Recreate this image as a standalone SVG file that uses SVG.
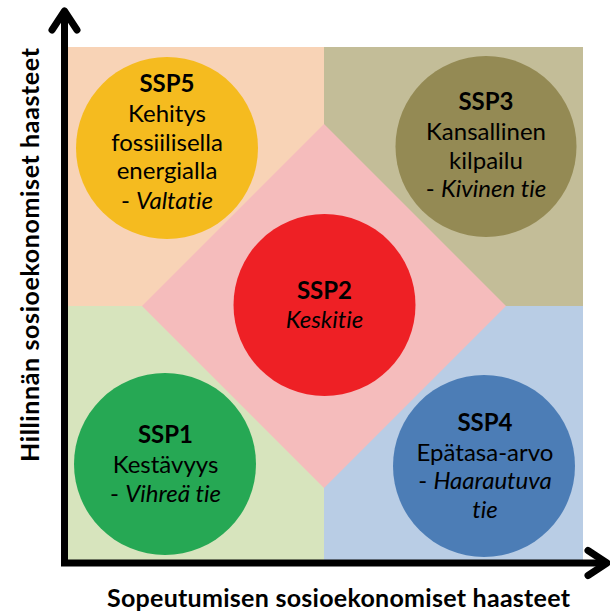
<svg xmlns="http://www.w3.org/2000/svg" width="610" height="613" viewBox="0 0 610 613">
  <style>
    .t { font-family: Lato, "Liberation Sans", sans-serif; font-size: 24px; fill: #000; text-anchor: middle; font-variant-ligatures: none; }
    .b { font-weight: bold; }
    .i { font-style: italic; }
    .ax { fill: none; stroke: #000; stroke-width: 7; }
    .axl { font-family: Lato, "Liberation Sans", sans-serif; font-size: 25px; font-weight: bold; fill: #000; text-anchor: middle; font-variant-ligatures: none; }
  </style>
  <defs>
    <marker id="arr" markerUnits="userSpaceOnUse" viewBox="-30 -20 40 40" markerWidth="40" markerHeight="40" refX="0" refY="0" orient="auto-start-reverse" overflow="visible">
      <path d="M -19 -12.5 L 0 0 L -19 12.5" fill="none" stroke="#000" stroke-width="7" stroke-linecap="round" stroke-linejoin="round"/>
    </marker>
  </defs>
  <rect width="610" height="613" fill="#fff"/>
  <!-- quadrants -->
  <rect x="64" y="47" width="260" height="259" fill="#F8D3B6"/>
  <rect x="324" y="47" width="259" height="259" fill="#C3BD98"/>
  <rect x="64" y="306" width="260" height="257" fill="#D7E4BD"/>
  <rect x="324" y="306" width="259" height="257" fill="#B9CDE5"/>
  <polygon points="324,124 506,306 324,488 142,306" fill="#F5BCBC"/>

  <g id="connectors">
    <path class="ax" d="M 64.5 11 V 563 H 607" marker-start="url(#arr)" marker-end="url(#arr)"/>
  </g>

  <g id="ssp5">
    <circle cx="167" cy="148" r="91" fill="#F5BB1F"/>
    <text class="t b" x="167" y="92">SSP5</text>
    <text class="t" x="167" y="122">Kehitys</text>
    <text class="t" x="167" y="151">fossiilisella</text>
    <text class="t" x="167" y="179">energialla</text>
    <text class="t" x="167" y="209">- <tspan class="i">Valtatie</tspan></text>
  </g>
  <g id="ssp3">
    <circle cx="486" cy="146.5" r="90.5" fill="#948A54"/>
    <text class="t b" x="486" y="110">SSP3</text>
    <text class="t" x="486" y="140">Kansallinen</text>
    <text class="t" x="486" y="169">kilpailu</text>
    <text class="t" x="486" y="197">- <tspan class="i">Kivinen tie</tspan></text>
  </g>
  <g id="ssp2">
    <circle cx="324.5" cy="305" r="91" fill="#EE2025"/>
    <text class="t b" x="324.5" y="299">SSP2</text>
    <text class="t i" x="324.5" y="328">Keskitie</text>
  </g>
  <g id="ssp1">
    <circle cx="165" cy="464" r="91" fill="#26A854"/>
    <text class="t b" x="165.5" y="443">SSP1</text>
    <text class="t" x="165.5" y="472.5">Kestävyys</text>
    <text class="t" x="165.5" y="501.5">- <tspan class="i">Vihreä tie</tspan></text>
  </g>
  <g id="ssp4">
    <circle cx="484" cy="466" r="91" fill="#4C7DB6"/>
    <text class="t b" x="485" y="430.5">SSP4</text>
    <text class="t" x="485" y="460.5">Epätasa-arvo</text>
    <text class="t" x="485" y="489">- <tspan class="i">Haarautuva</tspan></text>
    <text class="t i" x="485" y="518">tie</text>
  </g>

  <text class="axl" x="338.5" y="607" textLength="463" lengthAdjust="spacing">Sopeutumisen sosioekonomiset haasteet</text>
  <text class="axl" transform="translate(39,255) rotate(-90)" x="0" y="0" textLength="414" lengthAdjust="spacing">Hillinnän sosioekonomiset haasteet</text>
</svg>
